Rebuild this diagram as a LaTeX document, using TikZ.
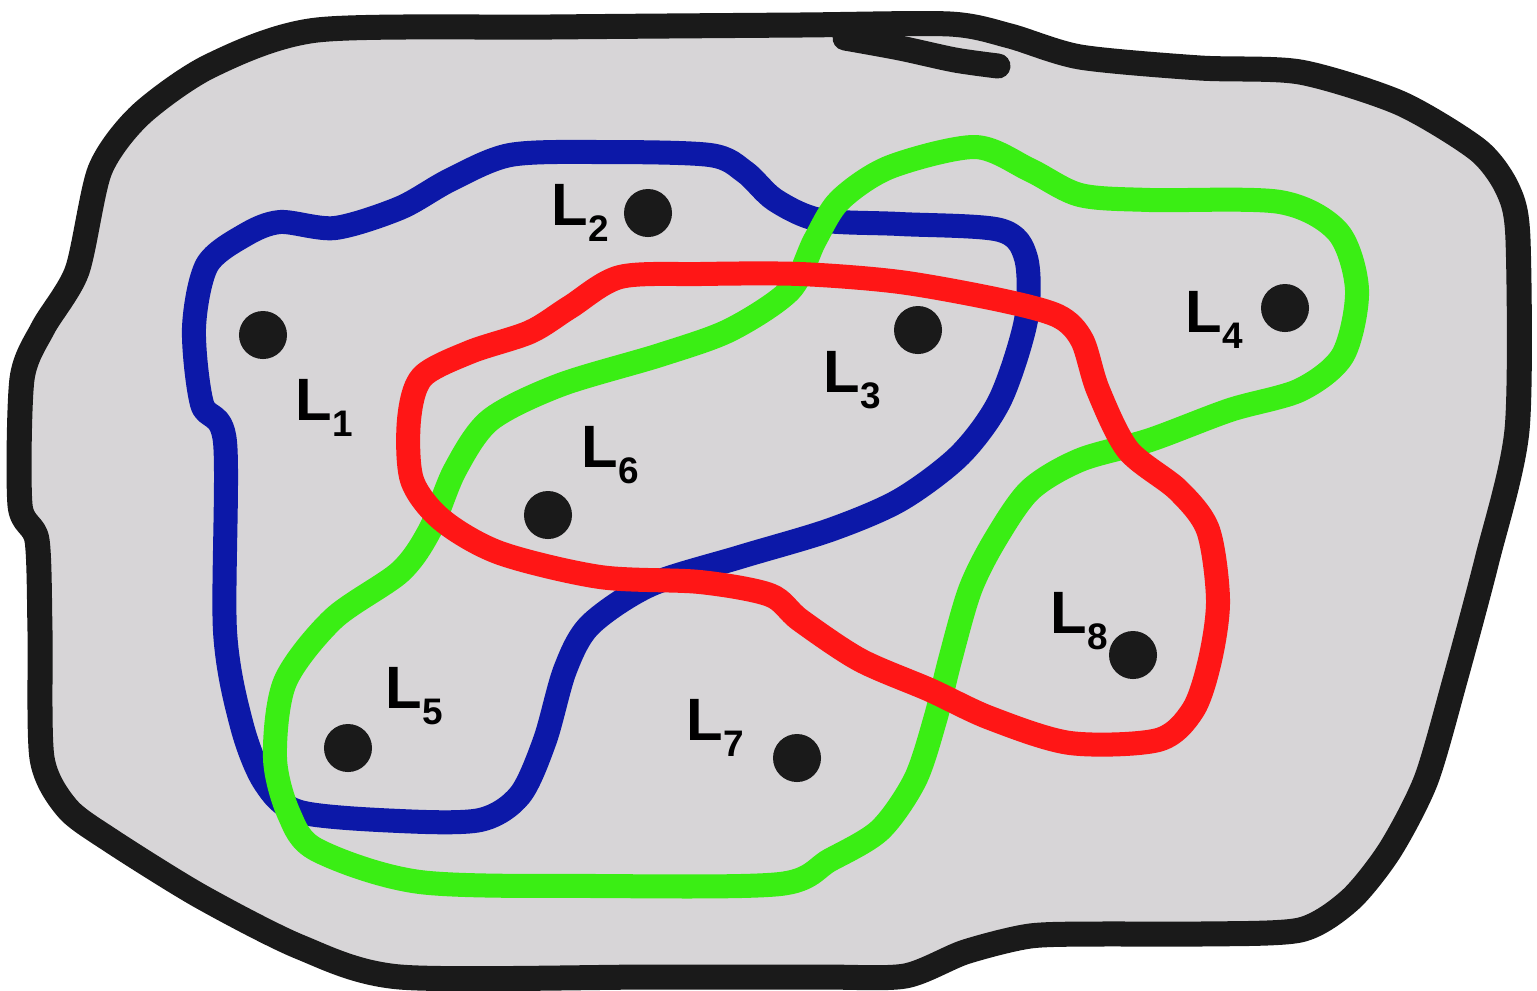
\documentclass[tikz,border=0pt]{standalone}
\usepackage{fontspec}
\setmainfont{Liberation Sans}
\usepackage{tikz}
\usetikzlibrary{positioning}

\definecolor{paper}{RGB}{215,213,215}
\definecolor{ink}{RGB}{26,26,26}
\definecolor{setblue}{RGB}{12,24,168}
\definecolor{setgreen}{RGB}{58,238,20}
\definecolor{setred}{RGB}{255,22,22}

\newcommand{\lname}[1]{L\raisebox{-4.6pt}{\fontsize{10.5}{12}\selectfont #1}}

\tikzset{
  outline/.style={draw=ink,line width=0.25cm,line join=round,fill=paper},
  region/.style={line width=0.24cm,line join=round},
  dot/.style={circle,fill=ink,inner sep=0pt,minimum size=0.48cm},
  lab/.style={anchor=base west,inner sep=0pt,font=\fontsize{17}{20}\selectfont\bfseries}
}

\begin{document}
\begin{tikzpicture}[x=0.01cm,y=-0.01cm]
\useasboundingbox (0,0) rectangle (1537,990);

% Outer border
\draw[outline] plot[smooth cycle,tension=0.45] coordinates {
  (100,170) (140,115) (210,66) (317,30) (550,27) (800,25) (950,24) (1010,36)
  (1080,57) (1200,68) (1300,72) (1400,103) (1478,150) (1508,190) (1518,240)
  (1517,430) (1487,560) (1455,680) (1426,780) (1390,850) (1350,900) (1300,930)
  (1200,934) (1100,934) (1030,936) (965,952) (905,976) (820,977) (650,977)
  (400,977) (300,947) (200,896) (110,840) (67,808) (42,758) (40,631) (37,540)
  (20,505) (22,379) (43,328) (77,271)};
\draw[ink,line width=0.25cm,line cap=round] plot[smooth,tension=0.5] coordinates {
  (845,38) (900,48) (955,60) (998,66)};

% Blue set
\draw[region,setblue] plot[smooth cycle,tension=0.5] coordinates {
  (280,222) (335,228) (400,208) (450,180) (510,155) (600,152) (710,155)
  (745,172) (775,200) (820,220) (900,224) (1000,230) (1026,258) (1026,320)
  (1000,400) (960,455) (900,500) (830,530) (740,557) (650,585) (590,625)
  (565,670) (545,740) (520,795) (480,820) (400,821) (300,812) (265,783)
  (242,726) (225,631) (225,442) (202,404) (194,328) (207,265) (245,235)};

% Green set
\draw[region,setgreen] plot[smooth cycle,tension=0.5] coordinates {
  (975,147) (1030,170) (1080,195) (1150,200) (1280,202) (1338,232) (1357,290)
  (1343,355) (1300,390) (1230,410) (1150,440) (1080,460) (1030,490) (995,540)
  (970,590) (950,660) (935,720) (915,780) (880,830) (830,860) (780,884)
  (600,886) (420,882) (317,850) (289,814) (275,758) (285,682) (333,619)
  (400,572) (430,530) (455,470) (490,420) (560,385) (660,355) (730,330)
  (790,290) (815,240) (840,200) (890,167)};

% Red set
\draw[region,setred] plot[smooth cycle,tension=0.5] coordinates {
  (620,277) (700,274) (800,274) (900,282) (1000,300) (1058,316) (1082,340)
  (1098,390) (1128,450) (1178,490) (1208,530) (1218,600) (1210,660) (1193,710)
  (1158,740) (1070,743) (990,718) (930,690) (860,660) (800,620) (770,595)
  (700,582) (600,577) (500,553) (442,520) (412,480) (409,420) (422,377)
  (470,352) (530,332) (570,307)};

% Points
\foreach \n/\x/\y in {1/263/335, 2/648/213, 3/918/330, 4/1285/308,
                      5/348/748, 6/548/515, 7/797/758, 8/1133/655}
  \node[dot] (d\n) at (\x,\y) {};

% Labels
\foreach \n/\x/\y in {1/295/420, 2/551/225, 3/823/392, 4/1185/332,
                      5/385/708, 6/581/467, 7/686/740, 8/1050/633}
  \node[lab] (l\n) at (\x,\y) {\lname{\n}};
\end{tikzpicture}
\end{document}
